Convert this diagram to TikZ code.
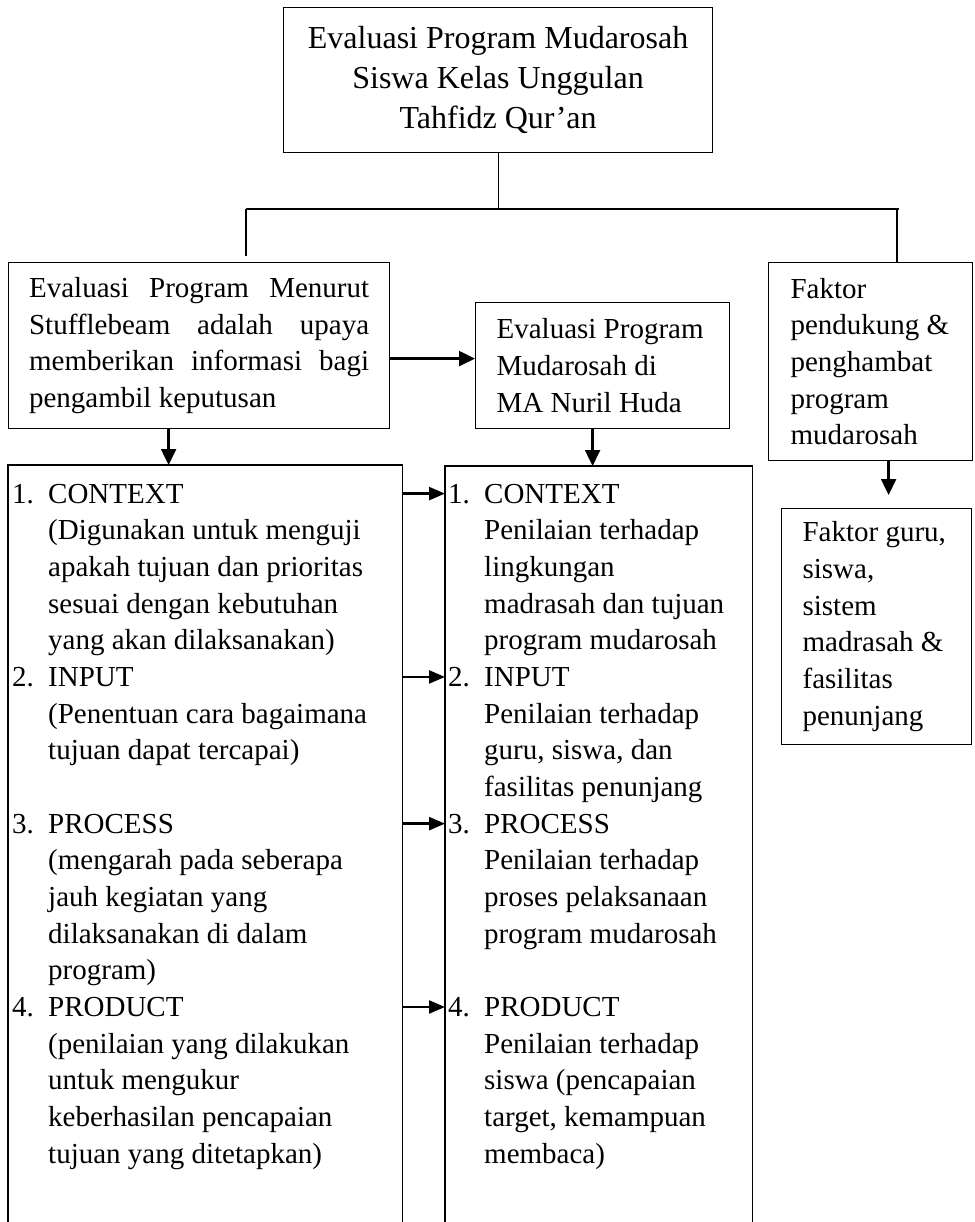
\documentclass[tikz,border=0pt]{standalone}
\usepackage{fontspec}
\setmainfont{Liberation Serif}
\usetikzlibrary{arrows.meta}
\newcommand\bodyfnt{\fontsize{29}{36.7}\selectfont}
\newcommand\topfnt{\fontsize{32}{40}\selectfont}
\newcommand\numbox[1]{\makebox[36pt][l]{#1}}
\newcommand\jline[1]{\leavevmode\hbox to 340pt{#1}}
\tikzset{
  box/.style={draw, line width=1.2pt, inner sep=0pt, anchor=north west},
  conn/.style={line width=1.2pt},
  openbox/.style={line width=1.1pt},
  arr/.style={line width=2.3pt, -{Triangle[length=16pt,width=15pt]}},
  sarr/.style={line width=2.3pt, -{Triangle[length=16pt,width=13pt]}},
  txt/.style={inner sep=0pt, anchor=base west, font=\bodyfnt},
}
\begin{document}
\begin{tikzpicture}[x=1pt,y=-1pt]
\path[fill=white,use as bounding box] (0,0) rectangle (974,1222);

% top box
\node[box, minimum width=429pt, minimum height=145pt, align=center, font=\topfnt] (top) at (283,7)
  {Evaluasi Program Mudarosah\\Siswa Kelas Unggulan\\Tahfidz Qur’an};

% second row boxes
\node[box, minimum width=381pt, minimum height=166pt, text width=340pt, align=flush left, font=\bodyfnt] (lt) at (8,262)
  {\jline{Evaluasi\hfill Program\hfill Menurut}\\
   \jline{Stufflebeam\hfill adalah\hfill upaya}\\
   \jline{memberikan\hfill informasi\hfill bagi}\\
   pengambil keputusan};
\node[box, minimum width=254pt, minimum height=126pt, text width=212pt, align=flush left, font=\bodyfnt] (mt) at (475,302)
  {Evaluasi Program\\Mudarosah di\\MA Nuril Huda};
\node[box, minimum width=204pt, minimum height=198pt, text width=160pt, align=flush left, font=\bodyfnt] (rt) at (768,262)
  {Faktor\\\mbox{pendukung \&}\\penghambat\\program\\mudarosah};
\node[box, minimum width=190pt, minimum height=236pt, text width=148pt, align=flush left, font=\bodyfnt] (fg) at (781,508)
  {\mbox{Faktor guru,}\\siswa,\\sistem\\\mbox{madrasah \&}\\fasilitas\\penunjang};

% open-bottom boxes
\node[inner sep=0pt, minimum width=394pt, minimum height=800pt, anchor=north west] (lb) at (8,465) {};
\node[inner sep=0pt, minimum width=307pt, minimum height=800pt, anchor=north west] (mb) at (445,466) {};
\draw[openbox] (lb.south west) -- (lb.north west) -- (lb.north east) -- (lb.south east);
\draw[openbox] (mb.south west) -- (mb.north west) -- (mb.north east) -- (mb.south east);

% left lines
\foreach \i/\x/\t in {
  0/12/{\numbox{1.}CONTEXT},
  1/48/{(Digunakan untuk menguji},
  2/48/{apakah tujuan dan prioritas},
  3/48/{sesuai dengan kebutuhan},
  4/48/{yang akan dilaksanakan)},
  5/12/{\numbox{2.}INPUT},
  6/48/{(Penentuan cara bagaimana},
  7/48/{tujuan dapat tercapai)},
  9/12/{\numbox{3.}PROCESS},
  10/48/{(mengarah pada seberapa},
  11/48/{jauh kegiatan yang},
  12/48/{dilaksanakan di dalam},
  13/48/{program)},
  14/12/{\numbox{4.}PRODUCT},
  15/48/{(penilaian yang dilakukan},
  16/48/{untuk mengukur},
  17/48/{keberhasilan pencapaian},
  18/48/{tujuan yang ditetapkan)}}
  \node[txt] (L\i) at (\x,{503+36.67*\i}) {\t};

% middle lines
\foreach \i/\x/\t in {
  0/448/{\numbox{1.}CONTEXT},
  1/484/{Penilaian terhadap},
  2/484/{lingkungan},
  3/484/{madrasah dan tujuan},
  4/484/{program mudarosah},
  5/448/{\numbox{2.}INPUT},
  6/484/{Penilaian terhadap},
  7/484/{guru, siswa, dan},
  8/484/{fasilitas penunjang},
  9/448/{\numbox{3.}PROCESS},
  10/484/{Penilaian terhadap},
  11/484/{proses pelaksanaan},
  12/484/{program mudarosah},
  14/448/{\numbox{4.}PRODUCT},
  15/484/{Penilaian terhadap},
  16/484/{siswa (pencapaian},
  17/484/{target, kemampuan},
  18/484/{membaca)}}
  \node[txt] (M\i) at (\x,{503+36.67*\i}) {\t};

% tree connectors
\coordinate (hl) at (246,209);
\coordinate (hr) at (899,209);
\coordinate (hld) at (246,256);
\coordinate (hrd) at (897,209);
\draw[conn] (top.south) -- (top.south |- hl);
\draw[conn] (hl) -- (hr);
\draw[conn] (hl) -- (hld);
\draw[conn] (hrd) -- (hrd |- rt.north);

% arrows
\coordinate (a1) at ([yshift=-13pt]lt.east);
\draw[arr] (a1) -- (a1 -| mt.west);
\coordinate (a2) at ([xshift=-30.5pt]lt.south);
\draw[arr] (a2) -- (a2 |- lb.north);
\coordinate (a3) at ([xshift=-10pt]mt.south);
\draw[arr] (a3) -- (a3 |- mb.north);
\coordinate (a4) at ([xshift=18pt]rt.south);
\coordinate (a4e) at ([yshift=13pt]a4 |- fg.north);
\draw[arr] (a4) -- (a4e);
\foreach \k in {0,5,9,14}
  \draw[sarr] (lb.east |- M\k) -- (mb.west |- M\k);
\end{tikzpicture}
\end{document}
